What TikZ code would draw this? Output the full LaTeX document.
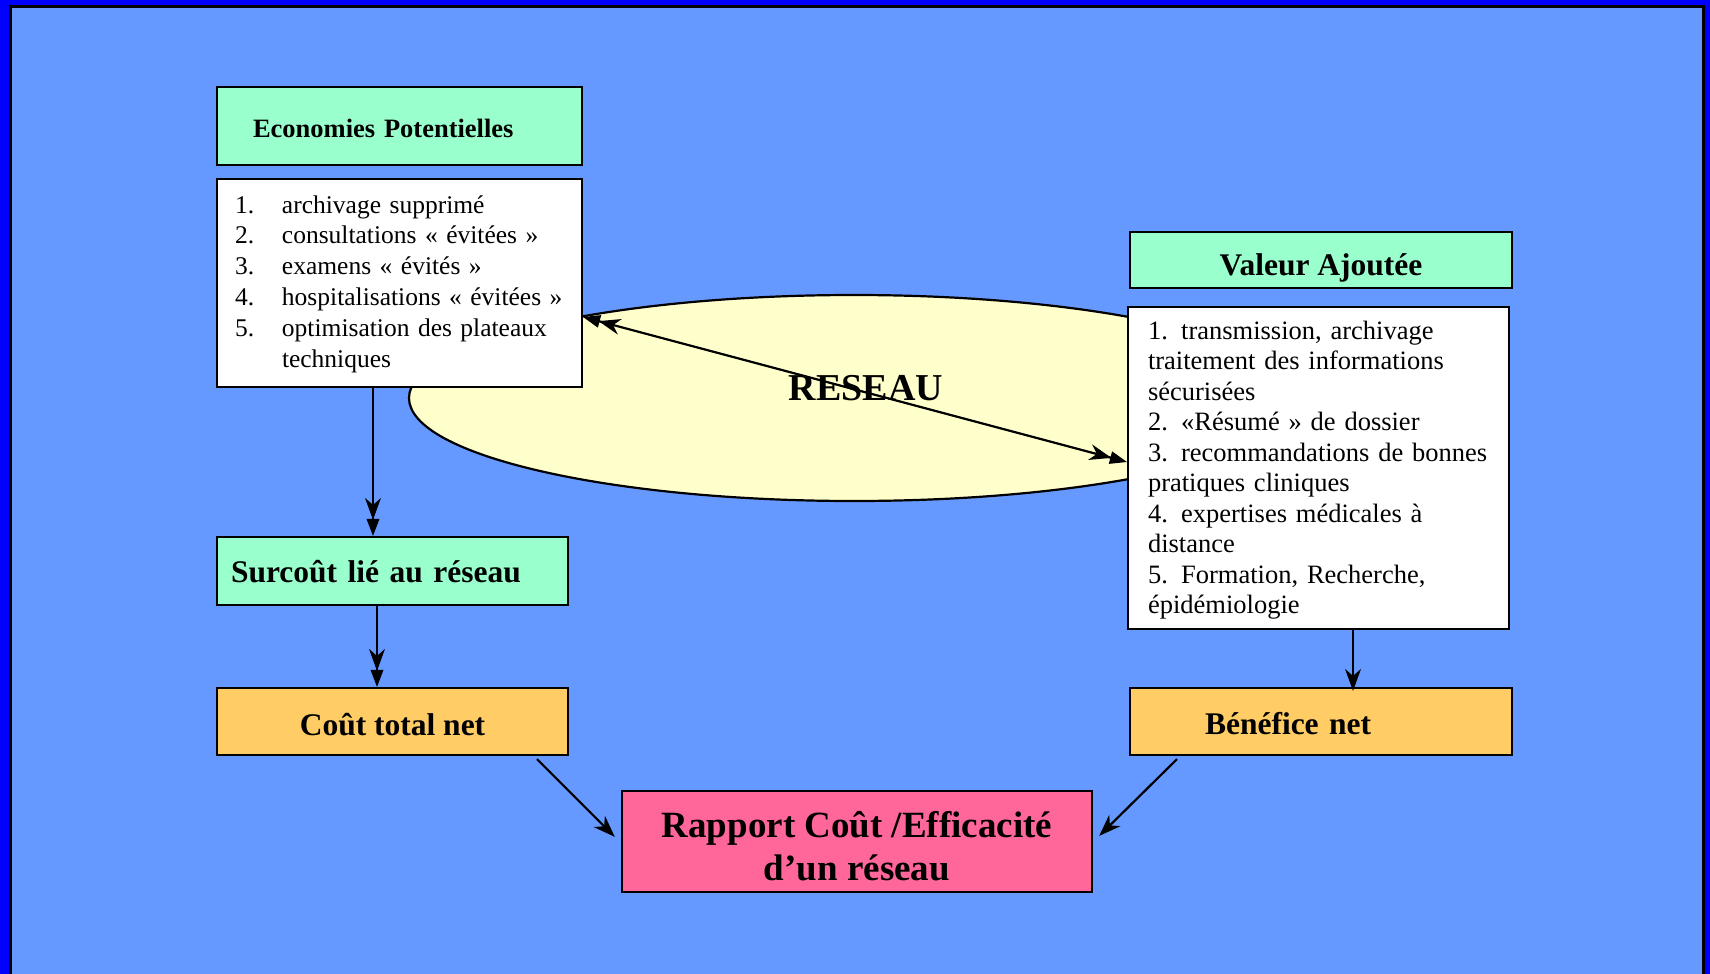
\documentclass[tikz,border=0pt]{standalone}
\usepackage{fontspec}
\setmainfont{Liberation Serif}
\usetikzlibrary{shapes.geometric,decorations.markings}

\definecolor{frameblue}{HTML}{0000FF}
\definecolor{bgblue}{HTML}{6699FF}
\definecolor{mint}{HTML}{99FFCC}
\definecolor{cream}{HTML}{FFFFCC}
\definecolor{gold}{HTML}{FFCC66}
\definecolor{rose}{HTML}{FF6699}

% numbered line with a fixed-width label column
\newcommand{\numln}[2]{\makebox[47pt][l]{#1}#2}

% arrowhead outlines, drawn in the local frame of the path end (x points forward)
\newcommand{\barbhead}[1]{\fill[black] (#1,0pt) -- ++(-22pt,8pt) -- ++(7pt,-8pt) -- ++(-7pt,-8pt) -- cycle;}
\newcommand{\trihead}{\fill[black] (0pt,0pt) -- (-17pt,6.5pt) -- (-17pt,-6.5pt) -- cycle;}

\tikzset{
  boxbase/.style={draw=black, line width=2.2pt, inner ysep=0pt, text=black},
  titlebox/.style={boxbase, fill=mint},
  listbox/.style={boxbase, fill=white, align=left},
  resultbox/.style={boxbase, fill=gold},
  link/.style={draw=black, line width=2.2pt},
  barblink/.style={link, shorten >=6pt, postaction={decorate},
    decoration={markings, mark=at position 1 with {\barbhead{0pt}}}},
  pairlink/.style={link, shorten >=10pt, postaction={decorate},
    decoration={markings, mark=at position 1 with {\trihead\barbhead{-16pt}}}},
  twowaylink/.style={link, shorten >=10pt, shorten <=10pt, postaction={decorate},
    decoration={markings,
      mark=at position 0 with {\begin{scope}[rotate=180]\trihead\barbhead{-16pt}\end{scope}},
      mark=at position 1 with {\trihead\barbhead{-16pt}}}},
}

\begin{document}
\begin{tikzpicture}[x=1pt, y=-1pt]
  \useasboundingbox (0,0) rectangle (1710,974);

  % frame and background
  \fill[frameblue] (0,0) rectangle (1710,974);
  \filldraw[fill=bgblue, draw=black, line width=3pt] (10,7) rectangle (1703,990);

  % network ellipse
  \node[ellipse, draw=black, line width=2.2pt, fill=cream, inner sep=0pt,
        minimum width=890pt, minimum height=206pt] (reseau) at (854,398) {};
  \node[font=\fontsize{38}{44}\selectfont\bfseries, inner sep=0pt] (reseaulbl) at (866,388) {RESEAU};

  % left column
  \node[titlebox, minimum width=365pt, minimum height=78pt, text width=293pt,
        inner xsep=36pt, align=left, text height=22pt, text depth=0pt,
        font=\fontsize{26.5}{30}\selectfont\bfseries]
        (econ) at (399.5,126) {Economies Potentielles};

  \node[listbox, minimum width=365pt, minimum height=208pt, text width=329pt,
        inner xsep=18pt, text height=20pt, text depth=160pt,
        font=\fontsize{25.5}{30.9}\selectfont]
        (econlist) at (399.5,283) {%
    \mbox{\numln{1.}{archivage supprimé}}\\
    \mbox{\numln{2.}{consultations «~évitées~»}}\\
    \mbox{\numln{3.}{examens «~évités~»}}\\
    \mbox{\numln{4.}{hospitalisations «~évitées~»}}\\
    \mbox{\numln{5.}{optimisation des plateaux}}\\
    \mbox{\numln{}{techniques}}};

  \node[titlebox, minimum width=351pt, minimum height=68pt, text width=323pt,
        inner xsep=14pt, align=left, text height=22pt, text depth=0pt,
        font=\fontsize{31.5}{36}\selectfont\bfseries]
        (surcout) at (392.5,571) {Surcoût lié au réseau};

  \node[resultbox, minimum width=351pt, minimum height=67pt,
        text height=27pt, text depth=0pt,
        font=\fontsize{31.5}{36}\selectfont\bfseries]
        (cout) at (392.5,721.5) {Coût total net};

  % right column
  \node[titlebox, minimum width=382pt, minimum height=56pt,
        text height=30pt, text depth=0pt,
        font=\fontsize{31.5}{36}\selectfont\bfseries]
        (valeur) at (1321,260) {Valeur Ajoutée};

  \node[listbox, minimum width=381pt, minimum height=322pt, text width=341pt,
        inner xsep=20pt, text height=20pt, text depth=278pt,
        font=\fontsize{26.5}{30.5}\selectfont]
        (vallist) at (1318.5,468) {%
    \mbox{1.\hspace{0.5em}transmission, archivage}\\
    \mbox{traitement des informations}\\
    \mbox{sécurisées}\\
    \mbox{2.\hspace{0.5em}«Résumé~» de dossier}\\
    \mbox{3.\hspace{0.5em}recommandations de bonnes}\\
    \mbox{pratiques cliniques}\\
    \mbox{4.\hspace{0.5em}expertises médicales à}\\
    \mbox{distance}\\
    \mbox{5.\hspace{0.5em}Formation, Recherche,}\\
    \mbox{épidémiologie}};

  \node[resultbox, minimum width=382pt, minimum height=67pt, text width=232pt,
        inner xsep=75pt, align=left, text height=25pt, text depth=0pt,
        font=\fontsize{31.5}{36}\selectfont\bfseries]
        (benef) at (1321,721.5) {Bénéfice net};

  % final ratio
  \node[boxbase, fill=rose, minimum width=470pt, minimum height=101pt, align=center,
        text height=80pt, text depth=3pt,
        font=\fontsize{37}{43}\selectfont\bfseries]
        (rapport) at (857,841.5) {Rapport Coût /Efficacité\\d’un réseau};

  % connectors
  \draw[twowaylink] ([yshift=-34pt]econlist.east) -- ([yshift=6pt]vallist.west);
  \draw[pairlink] ([xshift=-26.5pt]econlist.south) -- ([xshift=-26.5pt]econlist.south |- surcout.north);
  \draw[pairlink] ([xshift=-15.5pt]surcout.south) -- ([xshift=-15.5pt]surcout.south |- cout.north);
  \draw[barblink] ([xshift=34.5pt]vallist.south) -- ([xshift=34.5pt,yshift=-4pt]vallist.south |- benef.north);
  \draw[barblink] ([xshift=144.5pt,yshift=-3pt]cout.south) -- ([xshift=-6pt,yshift=4.5pt]rapport.west);
  \draw[barblink] ([xshift=-144pt,yshift=-3pt]benef.south) -- ([xshift=6pt,yshift=5.5pt]rapport.east);
\end{tikzpicture}
\end{document}
